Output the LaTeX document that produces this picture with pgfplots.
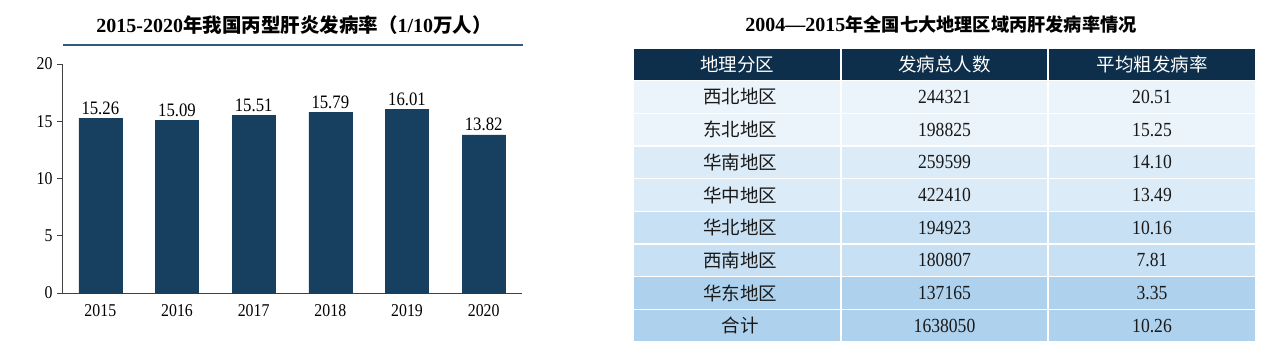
\documentclass[border=0pt]{standalone}
\usepackage{fontspec}
\setmainfont{Liberation Serif}
\newfontfamily\narrow{Liberation Serif}[FakeStretch=0.88]
\newfontfamily\cjk{Noto Sans CJK SC}
\usepackage{pgfplots}
\pgfplotsset{compat=1.18}
\definecolor{barc}{HTML}{163F60}
\definecolor{hdr}{HTML}{0E2F4B}
\definecolor{uline}{HTML}{34597D}
\definecolor{rA}{HTML}{EBF3FB}
\definecolor{rB}{HTML}{DBEBF7}
\definecolor{rC}{HTML}{C8E0F3}
\definecolor{rD}{HTML}{AED2EE}
\begin{document}
\begin{tikzpicture}[x=1pt,y=1pt]
\useasboundingbox (0,0) rectangle (1265,-356);
% ---- left chart title
\node[font=\fontsize{20}{22}\selectfont\bfseries, text=black, inner sep=0pt] at (294,-25)
  {2015-2020{\cjk\bfseries\fontsize{19.5}{22}\selectfont 年我国丙型肝炎发病率（}1/10{\cjk\bfseries\fontsize{19.5}{22}\selectfont 万人）}};
\draw[uline, line width=1.6pt] (63,-45) -- (523,-45);
\begin{axis}[
  at={(62pt,-293pt)}, anchor=south west,
  scale only axis, width=460pt, height=229pt,
  ymin=0, ymax=20, xmin=-0.5, xmax=5.5,
  ytick={0,5,10,15,20},
  xtick={0,1,2,3,4,5},
  xticklabels={2015,2016,2017,2018,2019,2020},
  axis lines*=left,
  axis line style={-, black!75, line width=0.8pt},
  tick align=outside, major tick length=5pt,
  ytick style={black!75, line width=0.8pt},
  xtick style={draw=none},
  /pgf/number format/assume math mode=true,
  ticklabel style={font=\narrow\fontsize{18}{18}\selectfont, text=black},
  yticklabel style={xshift=-1pt},
  xticklabel style={yshift=-3pt},
  ybar, bar width=43pt,
  nodes near coords,
  nodes near coords style={font=\narrow\fontsize{19}{19}\selectfont, text=black,
    /pgf/number format/fixed, /pgf/number format/fixed zerofill,
    /pgf/number format/precision=2, /pgf/number format/assume math mode=true},
  clip=false,
]
\addplot[fill=barc, draw=barc] coordinates {(0,15.26) (1,15.09) (2,15.51) (3,15.79) (4,16.01) (5,13.82)};
\end{axis}
% ---- right table
\node[font=\fontsize{20}{22}\selectfont\bfseries, text=black, inner sep=0pt] at (941,-25)
  {2004---2015{\cjk\bfseries\fontsize{18.2}{22}\selectfont 年全国七大地理区域丙肝发病率情况}};
\foreach \xl/\xr/\t in {633/841/地理分区, 841/1048/发病总人数, 1048/1256/平均粗发病率}{
  \fill[hdr, draw=white, line width=1.4pt] (\xl,-48) rectangle (\xr,-80.5);
  \node[text=white, font=\cjk\fontsize{18.5}{18.5}\selectfont] at ({(\xl+\xr)/2},-64.5) {\t};
}
\foreach \i/\n/\p/\v/\c in {0/西北地区/244321/20.51/rA, 1/东北地区/198825/15.25/rA,
   2/华南地区/259599/14.10/rB, 3/华中地区/422410/13.49/rB,
   4/华北地区/194923/10.16/rC, 5/西南地区/180807/7.81/rC,
   6/华东地区/137165/3.35/rD, 7/合计/1638050/10.26/rD}{
  \pgfmathsetmacro\yt{-80.5-32.7*\i}
  \pgfmathsetmacro\yb{-80.5-32.7*(\i+1)}
  \pgfmathsetmacro\ym{(\yt+\yb)/2}
  \fill[\c, draw=white, line width=1.4pt] (633,\yt) rectangle (841,\yb);
  \fill[\c, draw=white, line width=1.4pt] (841,\yt) rectangle (1048,\yb);
  \fill[\c, draw=white, line width=1.4pt] (1048,\yt) rectangle (1256,\yb);
  \node[text=black!90, font=\cjk\fontsize{18.5}{18.5}\selectfont] at (740,\ym) {\n};
  \node[text=black!90, font=\narrow\fontsize{20}{20}\selectfont] at (944.5,\ym) {\p};
  \node[text=black!90, font=\narrow\fontsize{20}{20}\selectfont] at (1152,\ym) {\v};
}
\end{tikzpicture}
\end{document}
